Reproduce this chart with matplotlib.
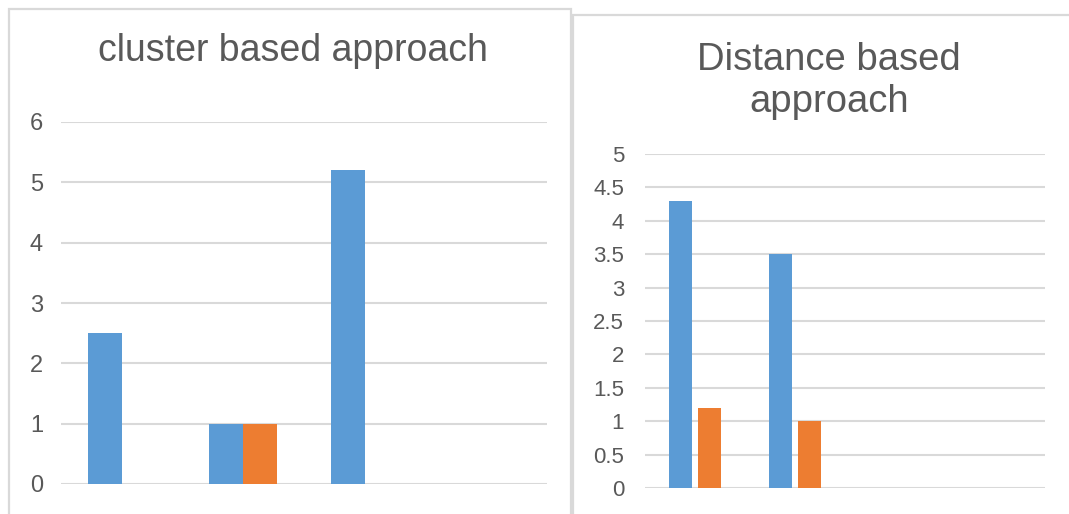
import numpy as np
import matplotlib.pyplot as plt
from matplotlib.patches import Rectangle

plt.rcParams['font.family'] = ['Liberation Sans', 'DejaVu Sans']

# data for both charts (4 categories, the last ones empty)
categories = [1, 2, 3, 4]
cluster_s1 = [2.5, 1.0, 5.2, 0]
cluster_s2 = [0, 1.0, 0, 0]
cluster_ticks = [0, 1, 2, 3, 4, 5, 6]

distance_s1 = [4.3, 3.5, 0, 0]
distance_s2 = [1.2, 1.0, 0, 0]
distance_ticks = [0, 0.5, 1, 1.5, 2, 2.5, 3, 3.5, 4, 4.5, 5]
distance_labels = ['0', '0.5', '1', '1.5', '2', '2.5', '3', '3.5', '4', '4.5', '5']

BLUE = '#5b9bd5'
ORANGE = '#ed7d31'
GRID = '#d9d9d9'
TEXT = '#595959'

W, H = 1069, 514
fig = plt.figure(figsize=(W / 100, H / 100), dpi=100)


def px_axes(x0, x1, ytop, ybot):
    return fig.add_axes([x0 / W, 1 - ybot / H, (x1 - x0) / W, (ybot - ytop) / H])


def frame(x0, y0, x1, y1):
    fig.patches.append(Rectangle((x0 / W, 1 - y1 / H), (x1 - x0) / W, (y1 - y0) / H,
                                 transform=fig.transFigure, fill=False,
                                 edgecolor=GRID, linewidth=1.6))


def style(ax, ticks, labels, top, size, pad):
    x = np.arange(len(categories))
    ax.set_xlim(-0.5, len(categories) - 0.5)
    ax.set_ylim(0, top)
    ax.set_yticks(ticks)
    ax.set_yticklabels(labels)
    ax.set_xticks([])
    ax.tick_params(axis='y', length=0, pad=pad, labelsize=size, labelcolor=TEXT)
    for s in ax.spines.values():
        s.set_visible(False)
    ax.grid(axis='y', color=GRID, linewidth=1.5)
    ax.set_axisbelow(True)
    return x


# panel borders
frame(9, 9, 571, 530)
frame(573, 15, 1080, 530)

# left chart
ax1 = px_axes(61, 547, 122, 484)
x = style(ax1, cluster_ticks, [str(t) for t in cluster_ticks], 6, 17, 13)
w = 0.28
ax1.bar(x - w / 2, cluster_s1, w, color=BLUE)
ax1.bar(x + w / 2, cluster_s2, w, color=ORANGE)
fig.text(293 / W, 1 - 51 / H, 'cluster based approach', ha='center', va='center',
         fontsize=27, color=TEXT)

# right chart
ax2 = px_axes(645, 1045, 154, 488)
x = style(ax2, distance_ticks, distance_labels, 5, 16, 15)
w = 0.23
ax2.bar(x - 0.145, distance_s1, w, color=BLUE)
ax2.bar(x + 0.145, distance_s2, w, color=ORANGE)
fig.text(829 / W, 1 - 81 / H, 'Distance based\napproach', ha='center', va='center',
         fontsize=27.5, color=TEXT, linespacing=1.25)

fig.savefig('out.png', dpi=100)
